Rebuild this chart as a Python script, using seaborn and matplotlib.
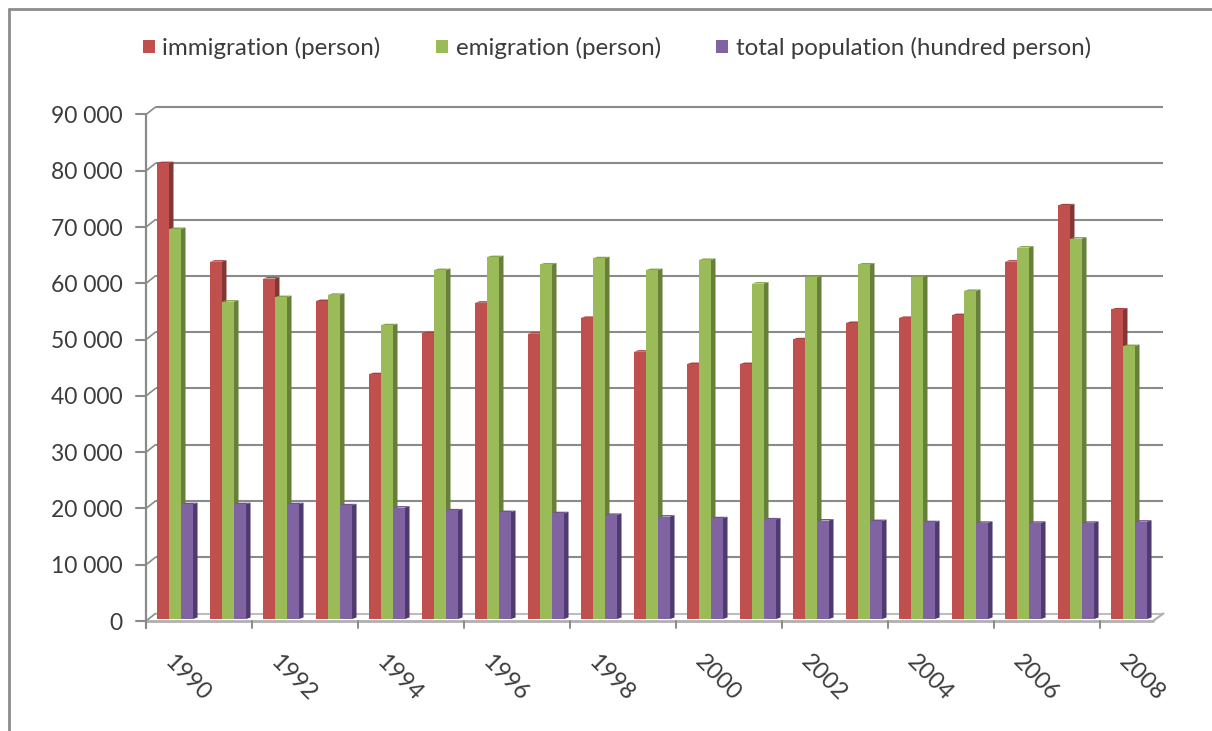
import matplotlib
matplotlib.use("Agg")
import matplotlib.pyplot as plt
import pandas as pd
import seaborn as sns
from matplotlib.lines import Line2D
from matplotlib.patches import Polygon
from matplotlib.transforms import Affine2D

years = list(range(1990, 2009))
immigration = [81000, 63500, 60500, 56500, 43500, 50800, 56200, 50700, 53500, 47500,
               45300, 45300, 49700, 52600, 53500, 54000, 63500, 73500, 55000]
emigration = [69300, 56400, 57200, 57600, 52200, 62000, 64300, 63000, 64100, 62000,
              63800, 59600, 60700, 63000, 60800, 58300, 66000, 67600, 48500]
population = [20400, 20400, 20400, 20200, 19800, 19300, 19000, 18800, 18500, 18200,
              17900, 17700, 17500, 17400, 17200, 17100, 17100, 17100, 17300]
series_names = ["immigration (person)", "emigration (person)", "total population (hundred person)"]
y_ticks = list(range(0, 90001, 10000))

front_colors = ["#C0504D", "#9BBB59", "#8064A2"]
side_colors = ["#843634", "#66803A", "#4E3A70"]
top_colors = ["#A8423F", "#86A44B", "#6E5590"]
AXIS_GRAY = "#8A8A8A"
TEXT = "#3C3C3C"

W, H = 1212, 731
sns.set_theme(style="white")
plt.rcParams["font.family"] = ["Lato", "DejaVu Sans"]

fig = plt.figure(figsize=(W / 100, H / 100), dpi=100, facecolor="white")
# axes box in pixels: front plane of the chart's floor and left wall
left, right, top, bottom = 146, 1153, 114.5, 621
ax = fig.add_axes([left / W, 1 - bottom / H, (right - left) / W, (bottom - top) / H])

table = pd.DataFrame({
    "year": years * 3,
    "series": sum([[n] * len(years) for n in series_names], []),
    "value": immigration + emigration + population,
})
sns.barplot(data=table, x="year", y="value", hue="series", hue_order=series_names,
            palette=front_colors, width=0.68, gap=0, saturation=1, linewidth=0,
            dodge=True, ax=ax, errorbar=None, legend=False)
ax.set_xlim(-0.5, len(years) - 0.5)
ax.set_ylim(0, 90000)
ax.patch.set_alpha(0)
for s in ax.spines.values():
    s.set_visible(False)
ax.set_xlabel("")
ax.set_ylabel("")

# pixel offsets that fake the depth of the 3D plot
wall_dx, wall_dy = 9.5, 7.5
bar_shift = Affine2D().translate(2.5, 2)
wall_shift = Affine2D().translate(wall_dx, wall_dy)
depth_dx, depth_dy = 4.5, 1.5

# back-wall gridlines, with the short diagonal joining each tick to the wall
for v in y_ticks:
    ax.plot([-0.5, len(years) - 0.5], [v, v], color=AXIS_GRAY if v else "#BDBDBD", lw=1.5,
            transform=ax.transData + wall_shift, zorder=1, clip_on=False, solid_capstyle="butt")
    x0, y0 = ax.transData.transform((-0.5, v))
    ax.plot([x0, x0 + wall_dx], [y0, y0 + wall_dy], color=AXIS_GRAY, lw=1.2,
            transform=None, zorder=1, clip_on=False)
    ax.plot([x0 - 10, x0], [y0, y0], color=AXIS_GRAY, lw=1.5,
            transform=None, zorder=2, clip_on=False)

# floor outline and front axis lines
xl, y0 = ax.transData.transform((-0.5, 0))
xr, ytop = ax.transData.transform((len(years) - 0.5, 90000))
ax.plot([xl, xr], [y0, y0], color="#B0B0B0", lw=2, transform=None, zorder=2, clip_on=False)
ax.plot([xr, xr + wall_dx + 1], [y0, y0 + wall_dy], color="#B0B0B0", lw=1.5,
        transform=None, zorder=2, clip_on=False)
ax.plot([xl, xl], [y0 - 7, ytop], color=AXIS_GRAY, lw=1.6, transform=None, zorder=2, clip_on=False)
for i in range(0, len(years) + 1, 2):
    xt = ax.transData.transform((i - 0.5, 0))[0]
    ax.plot([xt, xt], [y0 - 7, y0], color=AXIS_GRAY, lw=1.4, transform=None, zorder=2, clip_on=False)

# side and top faces of each bar, derived from the bar rectangles
bars = list(ax.patches)
n = len(years)
for idx, bar in enumerate(bars):
    k = idx // n
    bar.set_transform(ax.transData + bar_shift)
    bar.set_zorder(4)
    bar.set_clip_on(False)
    (x1, y1) = (ax.transData + bar_shift).transform((bar.get_x() + bar.get_width(), bar.get_height()))
    (x2, y2) = (ax.transData + bar_shift).transform((bar.get_x(), 0))
    ax.add_patch(Polygon([(x1, y1), (x1 + depth_dx, y1 + depth_dy), (x1 + depth_dx, y2 + depth_dy), (x1, y2)],
                         closed=True, fc=side_colors[k], ec="none", transform=None, zorder=3, clip_on=False))
    ax.add_patch(Polygon([(x2, y1), (x2 + depth_dx, y1 + depth_dy), (x1 + depth_dx, y1 + depth_dy), (x1, y1)],
                         closed=True, fc=top_colors[k], ec="none", transform=None, zorder=3, clip_on=False))

ax.grid(False)
ax.set_yticks(y_ticks)
ax.set_yticklabels([f"{v // 1000} 000" if v else "0" for v in y_ticks], fontsize=16.5, color=TEXT)
ax.tick_params(axis="y", length=0, pad=17)
ax.set_xticks(range(len(years)))
ax.set_xticklabels([])
ax.tick_params(axis="x", length=0)

# year labels on every second category, slanted downwards
for i in range(0, len(years), 2):
    ax.annotate(str(years[i]), xy=(i, 0), xycoords=("data", "axes fraction"),
                xytext=(15, -57), textcoords="offset pixels", rotation=-45,
                rotation_mode="anchor", ha="center", va="center",
                fontsize=17, color=TEXT, annotation_clip=False)

handles = [plt.Rectangle((0, 0), 1, 1, fc=c, ec="none") for c in front_colors]
fig.legend(handles, series_names, ncol=3, loc="center left", frameon=False,
           bbox_to_anchor=(143 / W, 1 - 48 / H), fontsize=17.4, labelcolor=TEXT,
           handlelength=0.5, handleheight=0.5, handletextpad=0.3,
           columnspacing=2.3, borderpad=0, borderaxespad=0)

# thin frame along the top and left edges
frame = dict(color="#8C8C8C", lw=2, transform=fig.transFigure)
fig.add_artist(Line2D([8.5 / W, 8.5 / W], [0, 1 - 9 / H], **frame))
fig.add_artist(Line2D([8.5 / W, 1], [1 - 9 / H, 1 - 9 / H], **frame))

fig.savefig("out.png", dpi=100, facecolor="white")
